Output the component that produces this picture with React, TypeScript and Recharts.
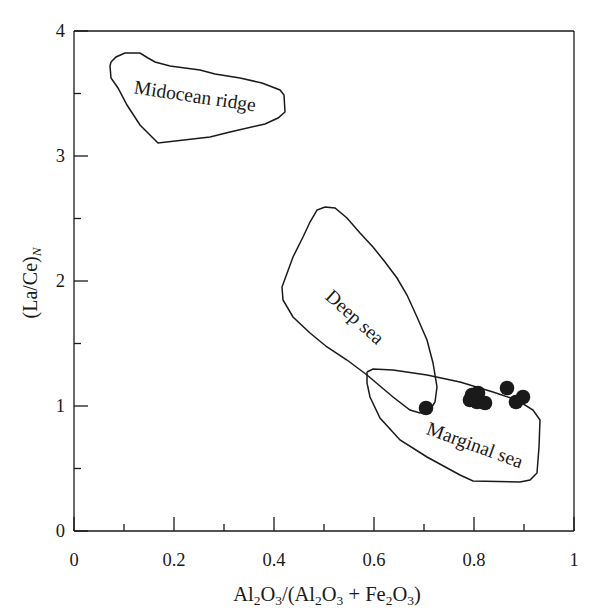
import React from 'react';
import { ScatterChart, Scatter, XAxis, YAxis, ReferenceLine } from 'recharts';

// ---- Data ----
const sampleX = [0.704, 0.796, 0.808, 0.806, 0.822, 0.792, 0.866, 0.898, 0.884];
const sampleY = [0.984, 1.088, 1.104, 1.032, 1.024, 1.048, 1.144, 1.072, 1.032];

const midoceanRidge: [number, number][] = [
  [0.074, 3.752], [0.084, 3.792], [0.102, 3.824], [0.132, 3.824], [0.148, 3.784],
  [0.162, 3.752], [0.192, 3.72], [0.252, 3.688], [0.282, 3.656], [0.332, 3.624],
  [0.376, 3.584], [0.412, 3.528], [0.42, 3.488], [0.422, 3.352], [0.408, 3.304],
  [0.382, 3.256], [0.312, 3.192], [0.272, 3.152], [0.168, 3.104], [0.132, 3.248],
  [0.106, 3.408], [0.088, 3.544], [0.074, 3.624], [0.072, 3.72],
];

const deepSea: [number, number][] = [
  [0.502, 2.592], [0.522, 2.584], [0.546, 2.504], [0.572, 2.384], [0.598, 2.272],
  [0.622, 2.152], [0.646, 2.024], [0.666, 1.888], [0.686, 1.712], [0.706, 1.528],
  [0.718, 1.344], [0.726, 1.152], [0.722, 1.032], [0.712, 0.968], [0.692, 0.944],
  [0.672, 0.968], [0.638, 1.072], [0.586, 1.248], [0.546, 1.368], [0.506, 1.472],
  [0.472, 1.584], [0.438, 1.712], [0.418, 1.848], [0.416, 1.952], [0.438, 2.192],
  [0.458, 2.352], [0.472, 2.472], [0.486, 2.568],
];

const marginalSea: [number, number][] = [
  [0.586, 1.272], [0.598, 1.296], [0.638, 1.288], [0.706, 1.248], [0.772, 1.192],
  [0.838, 1.112], [0.886, 1.048], [0.918, 0.968], [0.932, 0.888], [0.93, 0.672],
  [0.926, 0.464], [0.912, 0.408], [0.892, 0.392], [0.798, 0.4], [0.772, 0.448],
  [0.706, 0.592], [0.652, 0.728], [0.612, 0.904], [0.592, 1.072], [0.586, 1.184],
];

const regionNames = ['Midocean ridge', 'Deep sea', 'Marginal sea'];
const regionLabelX = [0.242, 0.562, 0.802];
const regionLabelY = [3.48, 1.712, 0.688];

const xTicks = [0, 0.1, 0.2, 0.3, 0.4, 0.5, 0.6, 0.7, 0.8, 0.9, 1];
const xTickLabels = ['0', '', '0.2', '', '0.4', '', '0.6', '', '0.8', '', '1'];
const yTicks = [0, 0.5, 1, 1.5, 2, 2.5, 3, 3.5, 4];
const yTickLabels = ['0', '', '1', '', '2', '', '3', '', '4'];

// ---- Styles ----
const FONT = '"Liberation Serif", "DejaVu Serif", serif';
const INK = '#1a1a1a';
const labelAngles: Record<string, number> = { 'Midocean ridge': 8.5, 'Deep sea': 42, 'Marginal sea': 20 };

const closed = (pts: [number, number][]) =>
  [...pts, pts[0]].map(([x, y]) => ({ x, y }));

const samples = sampleX.map((x, i) => ({ x, y: sampleY[i] }));
const regionLabels = regionNames.map((name, i) => ({ x: regionLabelX[i], y: regionLabelY[i], name }));

const Empty = () => <g />;

const Dot = (p: any) => <circle cx={p.cx} cy={p.cy} r={7.3} fill={INK} />;

const RegionText = (p: any) => {
  const name = p.payload?.name ?? p.name;
  const a = labelAngles[name] ?? 0;
  return (
    <text
      x={p.cx}
      y={p.cy}
      textAnchor="middle"
      dominantBaseline="central"
      fontFamily={FONT}
      fontSize={19.5}
      fill={INK}
      transform={`rotate(${a} ${p.cx} ${p.cy})`}
    >
      {name}
    </text>
  );
};

const XTick = (p: any) => {
  const v = p.payload.value;
  const i = xTicks.indexOf(v);
  const lab = i >= 0 ? xTickLabels[i] : '';
  const major = lab !== '';
  return (
    <g>
      <line x1={p.x} y1={p.y} x2={p.x} y2={p.y - (major ? 14 : 7)} stroke={INK} strokeWidth={1.3} />
      {major && (
        <text x={p.x} y={p.y + 35} textAnchor="middle" fontFamily={FONT} fontSize={18.5} fill={INK}>
          {lab}
        </text>
      )}
    </g>
  );
};

const YTick = (p: any) => {
  const v = p.payload.value;
  const i = yTicks.indexOf(v);
  const lab = i >= 0 ? yTickLabels[i] : '';
  const major = lab !== '';
  return (
    <g>
      <line x1={p.x} y1={p.y} x2={p.x + (major ? 14 : 7)} y2={p.y} stroke={INK} strokeWidth={1.3} />
      {major && (
        <text x={p.x - 9} y={p.y + 6} textAnchor="end" fontFamily={FONT} fontSize={18.5} fill={INK}>
          {lab}
        </text>
      )}
    </g>
  );
};

const XLabel = (p: any) => {
  const vb = p.viewBox || {};
  const cx = vb.x + vb.width / 2 + 3;
  const y = vb.y + 70;
  const s = 13.5;
  return (
    <text x={cx} y={y} textAnchor="middle" fontFamily={FONT} fontSize={20.5} fill={INK}>
      <tspan>Al</tspan>
      <tspan dy={4} fontSize={s}>2</tspan>
      <tspan dy={-4}>O</tspan>
      <tspan dy={4} fontSize={s}>3</tspan>
      <tspan dy={-4}>/(Al</tspan>
      <tspan dy={4} fontSize={s}>2</tspan>
      <tspan dy={-4}>O</tspan>
      <tspan dy={4} fontSize={s}>3</tspan>
      <tspan dy={-4}> + Fe</tspan>
      <tspan dy={4} fontSize={s}>2</tspan>
      <tspan dy={-4}>O</tspan>
      <tspan dy={4} fontSize={s}>3</tspan>
      <tspan dy={-4}>)</tspan>
    </text>
  );
};

const YLabel = (p: any) => {
  const vb = p.viewBox || {};
  const x = 37;
  const y = vb.y + vb.height / 2 + 2;
  return (
    <text x={x} y={y} textAnchor="middle" fontFamily={FONT} fontSize={20} fill={INK}
      transform={`rotate(-90 ${x} ${y})`}>
      <tspan>(La/Ce)</tspan>
      <tspan dy={4} fontSize={13} fontStyle="italic">N</tspan>
    </text>
  );
};

export default function App() {
  return (
    <div style={{ position: 'absolute', left: 0, top: 0, width: 600, height: 616, background: '#fff' }}>
      <ScatterChart width={600} height={616} margin={{ top: 31, right: 26, left: 34, bottom: 55 }}>
        <XAxis
          type="number"
          dataKey="x"
          domain={[0, 1]}
          ticks={xTicks}
          interval={0}
          tickSize={0}
          tickMargin={0}
          tickLine={false}
          tick={XTick}
          height={30}
          axisLine={{ stroke: INK, strokeWidth: 1.3 }}
          allowDataOverflow
          label={{ content: XLabel }}
        />
        <YAxis
          type="number"
          dataKey="y"
          domain={[0, 4]}
          ticks={yTicks}
          interval={0}
          tickSize={0}
          tickMargin={0}
          tickLine={false}
          tick={YTick}
          width={40}
          axisLine={{ stroke: INK, strokeWidth: 1.3 }}
          allowDataOverflow
          label={{ content: YLabel }}
        />
        <ReferenceLine y={4} stroke={INK} strokeWidth={1.3} />
        <ReferenceLine x={1} stroke={INK} strokeWidth={1.3} />
        <Scatter data={closed(midoceanRidge)} line={{ stroke: INK, strokeWidth: 1.5 }} shape={Empty} isAnimationActive={false} />
        <Scatter data={closed(deepSea)} line={{ stroke: INK, strokeWidth: 1.5 }} shape={Empty} isAnimationActive={false} />
        <Scatter data={closed(marginalSea)} line={{ stroke: INK, strokeWidth: 1.5 }} shape={Empty} isAnimationActive={false} />
        <Scatter data={regionLabels} shape={RegionText} isAnimationActive={false} />
        <Scatter data={samples} shape={Dot} isAnimationActive={false} />
      </ScatterChart>
    </div>
  );
}
